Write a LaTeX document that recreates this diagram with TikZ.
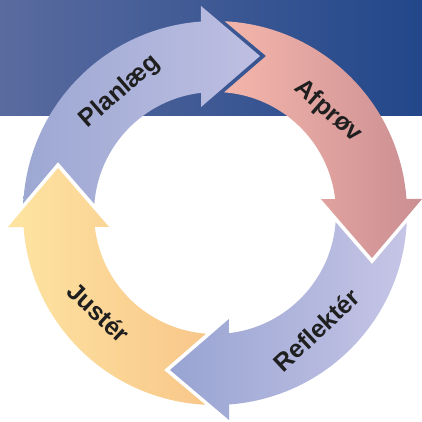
\documentclass[tikz,border=0pt]{standalone}
\usepackage{fontspec}
\setsansfont{Liberation Sans}
\usetikzlibrary{positioning}

\definecolor{bandleft}{HTML}{5A6B9F}
\definecolor{bandright}{HTML}{22478A}
\definecolor{planleft}{HTML}{9DA8D3}
\definecolor{planright}{HTML}{BEBFE2}
\definecolor{afprleft}{HTML}{F4B6AB}
\definecolor{afprright}{HTML}{CB8E92}
\definecolor{reflleft}{HTML}{98A4D2}
\definecolor{reflright}{HTML}{C6C5E6}
\definecolor{justleft}{HTML}{FEE4A1}
\definecolor{justright}{HTML}{F8C78A}

\begin{document}
\begin{tikzpicture}[x=1pt,y=1pt]
\tikzset{
  steptext/.style={font=\sffamily\bfseries\fontsize{25}{25}\selectfont, text=black!88},
  pics/cyclearrow/.style n args={3}{code={
    \shade[left color=#2, right color=#3]
      ({177.1+#1}:192) arc[start angle={177.1+#1}, end angle={94.2+#1}, radius=192]
      -- ({93.87+#1}:207.5) -- ({74+#1}:163.3) -- ({97.5+#1}:106.9)
      -- ({96.6+#1}:121) arc[start angle={96.6+#1}, end angle={175.7+#1}, radius=121]
      -- ({162+#1}:165.1) -- cycle;
  }}
}

\clip (-215,-208) rectangle (207,213);
\fill[white] (-215,-208) rectangle (207,213);

% blue band behind the top half
\shade[left color=bandleft, right color=bandright] (-215,98) rectangle (207,213);

% the four arrows of the cycle
\pic {cyclearrow={0}{planleft}{planright}};
\pic {cyclearrow={-90}{afprleft}{afprright}};
\pic {cyclearrow={-180}{reflleft}{reflright}};
\pic {cyclearrow={-270}{justleft}{justright}};

\node[steptext, rotate=41] (plan) at (128:154) {Planlæg};
\node[steptext, rotate=-41] (afpr) at (42:152) {Afprøv};
\node[steptext, rotate=43] (refl) at (-49:155) {Reflektér};
\node[steptext, rotate=-43] (just) at (220.5:153) {Justér};
\end{tikzpicture}
\end{document}
